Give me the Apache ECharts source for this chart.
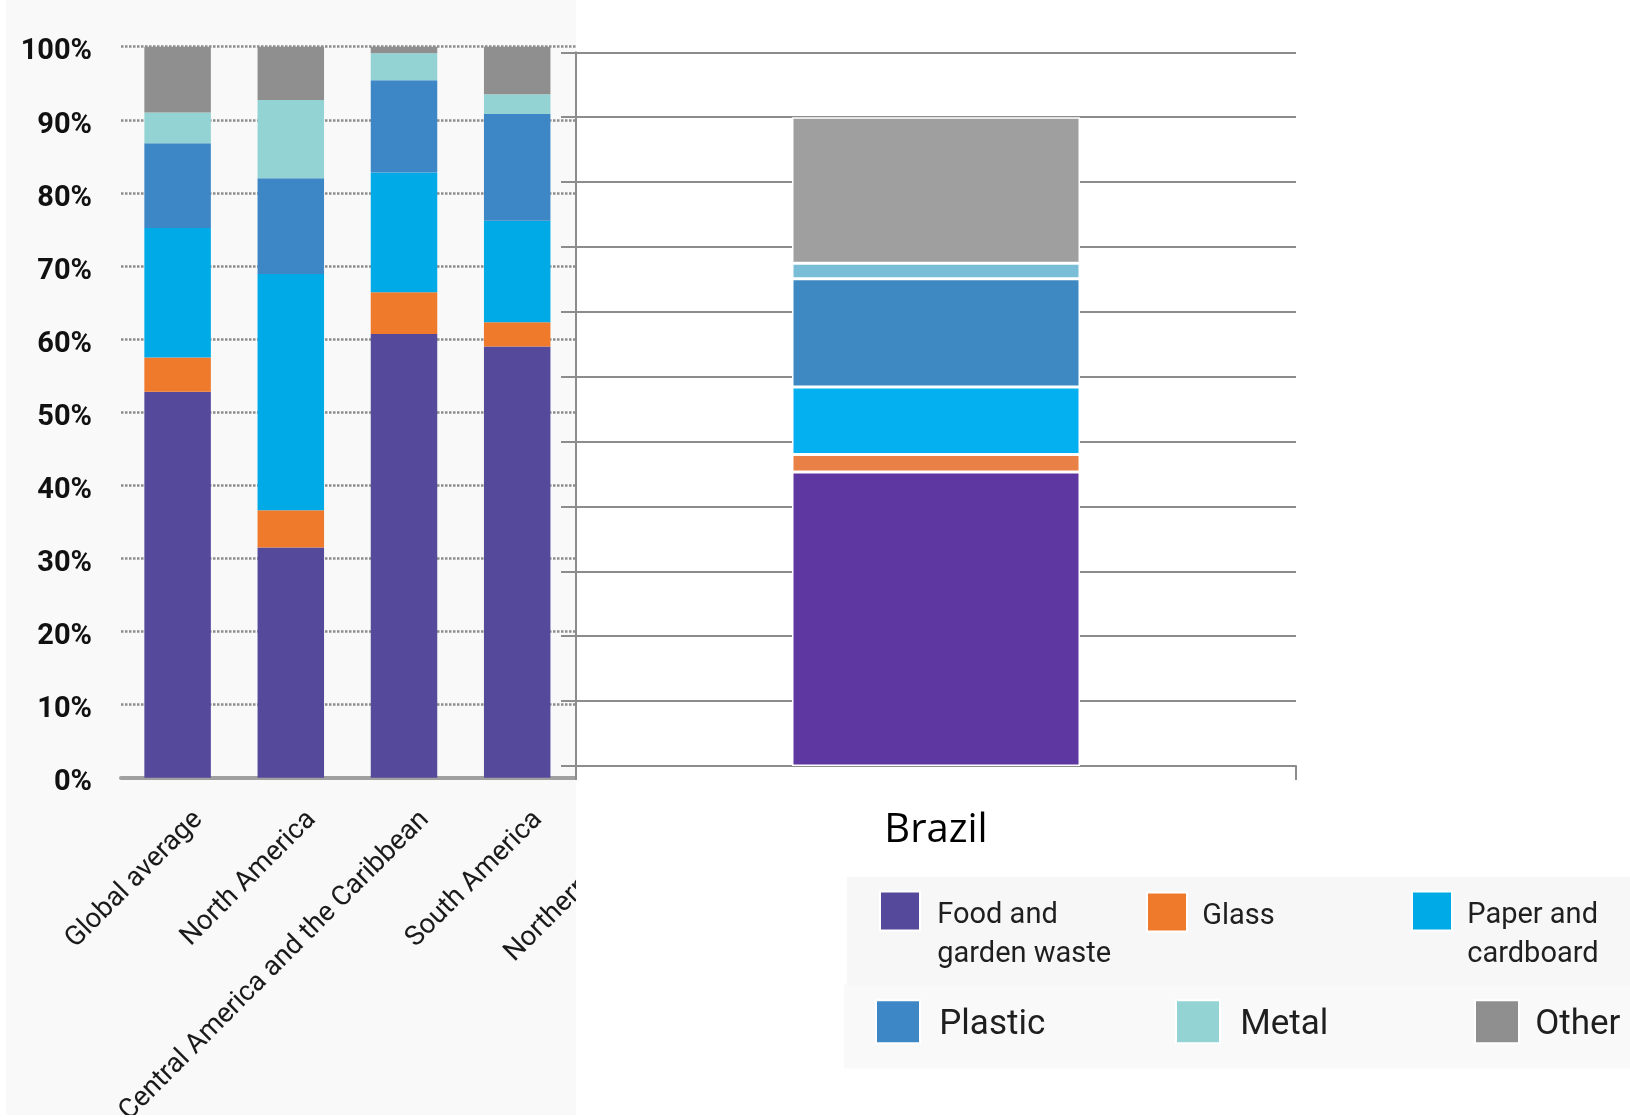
<!DOCTYPE html>
<html><head><meta charset="utf-8">
<script src="https://cdn.jsdelivr.net/npm/echarts@6/dist/echarts.min.js"></script>
<style>
html,body{margin:0;padding:0;background:#fff;width:1630px;height:1117px;overflow:hidden}
#leftWrap{position:absolute;left:6px;top:0;width:570px;height:1115px;overflow:hidden;background:#f9f9f9}
#left{position:absolute;left:0;top:0;width:760px;height:1115px}
#right{position:absolute;left:560px;top:0;width:1070px;height:1117px;background:linear-gradient(to right,rgba(255,255,255,0) 16px,#fff 16px)}
</style></head><body>
<div id="leftWrap"><div id="left"></div></div>
<div id="right"></div>
<script>
// ---- data ----
const categories = ['Global average', 'North America', 'Central America and the Caribbean', 'South America', 'Northern Europe'];
const seriesNames = ['Food and garden waste', 'Glass', 'Paper and cardboard', 'Plastic', 'Metal', 'Other'];
const food    = [52.8, 31.5, 60.7, 59.0, null];
const glass   = [4.7, 5.1, 5.7, 3.3, null];
const paper   = [17.7, 32.3, 16.4, 13.9, null];
const plastic = [11.6, 13.1, 12.6, 14.6, null];
const metal   = [4.2, 10.7, 3.7, 2.7, null];
const other   = [9.0, 7.3, 0.9, 6.5, null];
const brazilCategory = ['Brazil'];
const brazilValues = [45.3, 2.7, 10.4, 16.7, 2.4, 22.5];
const legendLabels = ['Food and\ngarden waste', 'Glass', 'Paper and\ncardboard', 'Plastic', 'Metal', 'Other'];

// ---- styles ----
const leftColors = ['#55499B', '#F07A2C', '#00AAE7', '#3D87C7', '#94D3D3', '#8F8F8F'];
const brazilColors = ['#5E37A1', '#E98045', '#05B0F0', '#3F89C3', '#79BED6', '#9F9F9F'];
const leftSeriesData = [food, glass, paper, plastic, metal, other];

const leftChart = echarts.init(document.getElementById('left'));
leftChart.setOption({
  animation: false,
  grid: { left: 115, top: 46.7, width: 566, height: 731, outerBoundsMode: 'none', containLabel: false },
  xAxis: {
    type: 'category', data: categories,
    axisLine: { show: true, lineStyle: { color: '#a0a0a0', width: 4 } },
    axisTick: { show: false },
    splitLine: { show: false },
    axisLabel: { interval: 0, rotate: 45, verticalAlign: 'top', lineHeight: 59, margin: 17,
      fontFamily: 'Roboto', fontSize: 27.5, color: '#1a1a1a', hideOverlap: false }
  },
  yAxis: {
    type: 'value', min: 0, max: 100, interval: 10,
    axisLine: { show: false }, axisTick: { show: false },
    axisLabel: { formatter: '{value}%', fontFamily: 'Roboto', fontWeight: 'bold', fontSize: 29,
      color: '#111', margin: 29, verticalAlign: 'top', lineHeight: 11 },
    splitLine: { show: true, lineStyle: { type: [2.5, 1.5], color: '#8c8c8c', width: 2.5 } }
  },
  series: seriesNames.map((n, i) => ({
    name: n, type: 'bar', stack: 'all', barWidth: 66.5,
    data: leftSeriesData[i], itemStyle: { color: leftColors[i] }
  }))
});

const rightChart = echarts.init(document.getElementById('right'));
const lineCol = '#8c8c8c';
const legendPos = [
  { left: 319, top: 853.25, w: 40, h: 39, fs: 29, ls: 38.5, lt: 30.5, pad: [0, 0, 0, 12] },
  { left: 586, top: 891.5, w: 40, h: 39, fs: 29, ls: 38.5, lt: 30.5, pad: [0, 0, 0, 10] },
  { left: 851, top: 853.25, w: 40, h: 39, fs: 29, ls: 38.5, lt: 30.5, pad: [0, 0, 0, 10] },
  { left: 315, top: 999.3, w: 44, h: 43, fs: 35, ls: 42, lt: 36, pad: [0, 0, 0, 14] },
  { left: 615, top: 999.3, w: 44, h: 43, fs: 35, ls: 42, lt: 36, pad: [0, 0, 0, 15] },
  { left: 914, top: 999.3, w: 44, h: 43, fs: 35, ls: 42, lt: 36, pad: [0, 0, 0, 11] }
];
function richLabel(txt) {
  const lines = txt.split('\n');
  const body = lines.map(l => '{s| }{t|' + l + '}').join('\n');
  return lines.length > 1 ? '{s| }\n' + body : body;
}
rightChart.setOption({
  animation: false,
  grid: { left: 16, top: 52.3, width: 720, height: 713.7, outerBoundsMode: 'none', containLabel: false },
  graphic: [
    { type: 'rect', z: 0, silent: true, shape: { x: 286.7, y: 876.7, width: 800, height: 108.3 }, style: { fill: '#f7f7f7' } },
    { type: 'rect', z: 0, silent: true, shape: { x: 284, y: 985, width: 800, height: 83.5 }, style: { fill: '#f9f9f9' } }
  ],
  legend: legendPos.map((p, i) => ({
    data: [{ name: seriesNames[i], icon: 'rect', itemStyle: { color: leftColors[i] } }],
    left: p.left, top: p.top, padding: 0, itemWidth: p.w, itemHeight: p.h,
    selectedMode: false, z: 5,
    formatter: () => richLabel(legendLabels[i]),
    textStyle: {
      fontFamily: 'Roboto', fontSize: p.fs, color: '#1f1f1f',
      padding: p.pad, backgroundColor: 'rgba(0,0,0,0)',
      rich: {
        s: { fontSize: 1, lineHeight: p.ls },
        t: { fontFamily: 'Roboto', fontSize: p.fs, lineHeight: p.lt, verticalAlign: 'bottom', color: '#1f1f1f' }
      }
    }
  })),
  xAxis: {
    type: 'category', data: brazilCategory,
    axisLine: { show: true, lineStyle: { color: lineCol, width: 2 } },
    axisTick: { show: true, length: 14, lineStyle: { color: lineCol, width: 2 } },
    axisLabel: { fontFamily: 'Open Sans', fontSize: 40, color: '#000', margin: 45 }
  },
  yAxis: {
    type: 'value', min: 0, max: 110, interval: 10,
    axisLine: { show: true, lineStyle: { color: lineCol, width: 2 } },
    axisTick: { show: true, length: 15, lineStyle: { color: lineCol, width: 2 } },
    axisLabel: { show: false },
    splitLine: { show: true, lineStyle: { color: lineCol, width: 2, type: 'solid' } }
  },
  series: seriesNames.map((n, i) => ({
    name: n, type: 'bar', stack: 'brazil', barWidth: '40%',
    data: [brazilValues[i]],
    itemStyle: { color: brazilColors[i], borderColor: '#fff', borderWidth: 1.5 }
  }))
});
</script>
</body></html>
